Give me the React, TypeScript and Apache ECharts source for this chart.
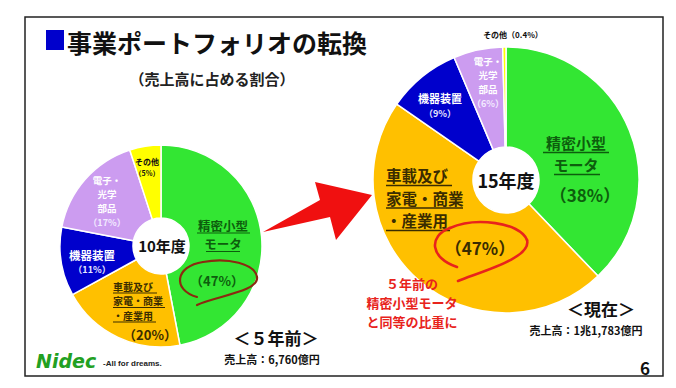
import React, { useEffect, useRef } from "react";
import * as echarts from "echarts";

const segments = ["精密小型モータ", "車載及び家電・商業・産業用", "機器装置", "電子・光学部品", "その他"];
const share10 = [47, 20, 11, 17, 5];
const share15 = [38, 47, 9, 6, 0.4];
const sliceColors = ["#33e633", "#ffc000", "#0000cc", "#cc9cf0", "#ffff00"];
const years = ["10年度", "15年度"];
const salesLabels = ["売上高：6,760億円", "売上高：1兆1,783億円"];
const periodLabels = ["＜５年前＞", "＜現在＞"];

const FF = '"Noto Sans CJK JP", "Noto Sans", sans-serif';
const pct = (v: number) => `（${v}%）`;

function txt(x: number, y: number, text: string, size: number, fill: string, align = "center", weight: any = "bold", extra: any = {}) {
  return {
    type: "text",
    x,
    y,
    z: 100,
    silent: true,
    style: { text, fill, fontSize: size, fontWeight: weight, fontFamily: FF, textAlign: align, textVerticalAlign: "middle", ...extra },
  };
}
function mtxt(x: number, y: number, lines: string[], size: number, fill: string, lh: number, align = "center") {
  return txt(x, y, lines.join("\n"), size, fill, align, "bold", { lineHeight: lh });
}
// rich two-style stack: main lines then a smaller percent line
function stack(x: number, y: number, lines: string[], size: number, fill: string, p: string, psize: number, pfill: string, lh: number) {
  const text = lines.map((l) => `{a|${l}}`).join("\n") + `\n{b|${p}}`;
  return {
    type: "text",
    x,
    y,
    z: 100,
    silent: true,
    style: {
      text,
      textAlign: "center",
      textVerticalAlign: "middle",
      rich: {
        a: { fontSize: size, fontWeight: "bold", fontFamily: FF, fill, lineHeight: lh, align: "center" },
        b: { fontSize: psize, fontWeight: "bold", fontFamily: FF, fill: pfill, lineHeight: lh, align: "center" },
      },
    },
  };
}
function uline(x1: number, x2: number, y: number, color: string, w = 1.2) {
  return { type: "line", z: 100, silent: true, shape: { x1, y1: y, x2, y2: y }, style: { stroke: color, lineWidth: w } };
}
function bez(p: number[], color: string, w: number) {
  return {
    type: "bezierCurve",
    z: 100,
    silent: true,
    shape: { x1: p[0], y1: p[1], cpx1: p[2], cpy1: p[3], cpx2: p[4], cpy2: p[5], x2: p[6], y2: p[7] },
    style: { stroke: color, lineWidth: w, fill: "none", lineCap: "round" },
  };
}

export default function App() {
  const ref = useRef<HTMLDivElement>(null);
  useEffect(() => {
    if (!ref.current) return;
    const chart = echarts.init(ref.current, null, { renderer: "svg" });
    const mk = (vals: number[]) =>
      vals.map((v, i) => ({ name: segments[i], value: v, itemStyle: { color: sliceColors[i] } }));
    const green = "#0d5e0d";
    const dark = "#3a2c00";
    const red = "#e8231c";
    const segParts = ["精密小型", "モータ"];
    const carParts = ["車載及び", "家電・商業", "・産業用"];
    const elecParts = ["電子・", "光学", "部品"];

    const graphic: any[] = [
      { type: "rect", z: 100, silent: true, shape: { x: 25, y: 17, width: 638, height: 359 }, style: { fill: "none", stroke: "#222", lineWidth: 1.5 } },
      { type: "rect", z: 100, silent: true, shape: { x: 46, y: 30, width: 18, height: 20 }, style: { fill: "#0000cc" } },
      txt(67, 42, "事業ポートフォリオの転換", 25, "#111", "left"),
      txt(212, 78, "（売上高に占める割合）", 15, "#222"),
      // arrow
      { type: "polygon", z: 100, silent: true, shape: { points: [[263, 232], [320, 200], [315, 182], [372, 195], [336, 240], [330, 217]] }, style: { fill: "#f01010" } },
      // left pie labels
      txt(162, 245, years[0], 15, "#111"),
      mtxt(223, 234.5, segParts, 12.5, green, 18.5),
      uline(197, 250, 233, green),
      uline(206, 240, 251.5, green),
      txt(217, 280, pct(share10[0]), 13, green),
      mtxt(113, 300.5, carParts, 10, dark, 14.5, "left"),
      uline(113, 157, 293, dark, 1),
      uline(113, 165, 307.5, dark, 1),
      uline(113, 156, 322, dark, 1),
      txt(150, 334, pct(share10[1]), 13, dark),
      stack(92, 262, [segments[2]], 11.5, "#fff", pct(share10[2]), 9, "#e8e8ff", 15),
      stack(107, 201, elecParts, 9.5, "#fff", pct(share10[3]), 9, "#f2eaff", 14),
      stack(147, 167, [segments[4]], 8, "#111", pct(share10[4]), 7, "#111", 12),
      bez([197, 297, 172, 290, 175, 266, 203, 262], "#8b2a10", 2.2),
      bez([203, 262, 228, 257, 255, 264, 257, 277], "#8b2a10", 2.2),
      bez([257, 277, 259, 292, 215, 296, 197, 305], "#8b2a10", 2.2),
      txt(276, 337, periodLabels[0], 17, "#111"),
      txt(272, 359, salesLabels[0], 11, "#111"),
      // right pie labels
      txt(506, 180, years[1], 18, "#111"),
      txt(513, 34, segments[4] + pct(share15[4]), 8, "#111"),
      stack(488, 82, elecParts, 9.5, "#fff", pct(share15[3]), 9, "#f2eaff", 14),
      stack(440, 105.5, [segments[2]], 11, "#fff", pct(share15[2]), 9, "#e8e8ff", 15),
      mtxt(576, 153, segParts, 15, green, 22),
      uline(543, 609, 152.5, green, 1.4),
      uline(554, 600, 174.5, green, 1.4),
      txt(585, 194, pct(share15[0]), 17, green),
      mtxt(386, 197.5, carParts, 15.5, dark, 22.5, "left"),
      uline(386, 452, 185.5, dark, 1.4),
      uline(386, 463, 208, dark, 1.4),
      uline(386, 450, 230.5, dark, 1.4),
      txt(480, 247, pct(share15[1]), 17, dark),
      bez([457, 267, 430, 258, 428, 236, 450, 228], red, 2.6),
      bez([450, 228, 475, 217, 520, 222, 527, 240], red, 2.6),
      bez([527, 240, 532, 258, 480, 272, 458, 281], red, 2.6),
      mtxt(412, 302, ["５年前の", "精密小型モータ", "と同等の比重に"], 13, red, 19),
      txt(601, 308, periodLabels[1], 17, "#111"),
      txt(586, 330, salesLabels[1], 11, "#111"),
      txt(645, 367, "6", 17, "#111"),
      // logo
      txt(36, 361, "Nidec", 19, "#22a022", "left", 900, { fontStyle: "italic", fontFamily: '"DejaVu Sans", sans-serif' }),
      txt(103, 363, "-All for dreams.", 8, "#222", "left", "bold", { fontFamily: '"Liberation Sans", sans-serif' }),
    ];

    const pieBase = {
      type: "pie",
      startAngle: 90,
      clockwise: true,
      label: { show: false },
      labelLine: { show: false },
      silent: true,
      emphasis: { disabled: true },
      itemStyle: { borderColor: "#fff", borderWidth: 1.5 },
    };

    chart.setOption({
      animation: false,
      backgroundColor: "#fff",
      series: [
        { ...pieBase, name: years[0], center: [161, 246], radius: [28, 101], data: mk(share10) },
        { ...pieBase, name: years[1], center: [506, 180], radius: [33, 133], data: mk(share15) },
      ],
      graphic,
    });
    return () => chart.dispose();
  }, []);
  return <div ref={ref} style={{ position: "fixed", left: 0, top: 0, width: 676, height: 388 }} />;
}
